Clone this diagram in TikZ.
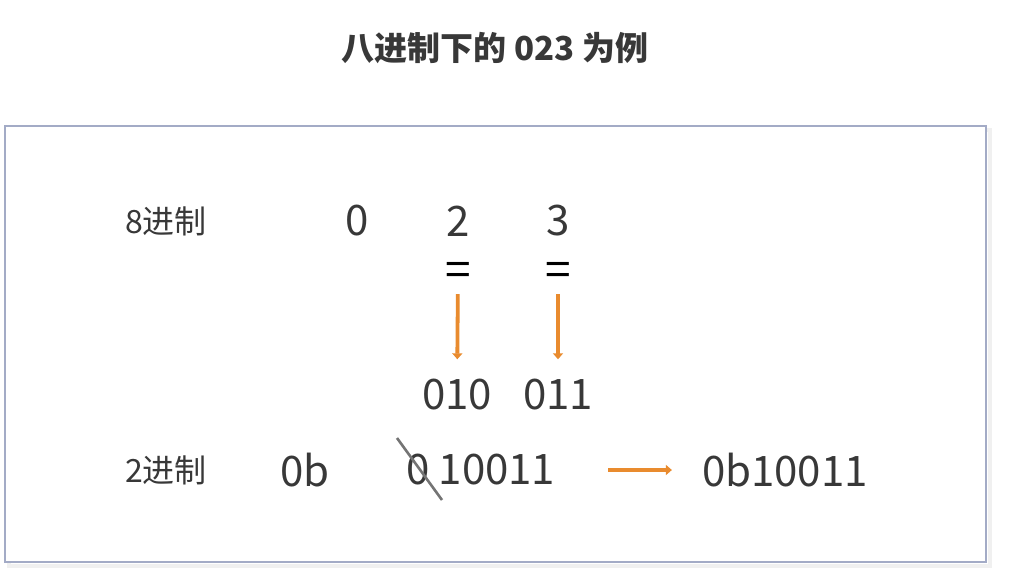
\documentclass[tikz,border=0pt]{standalone}
\usepackage{fontspec}
\setmainfont{Noto Sans CJK SC}
\usetikzlibrary{positioning,arrows.meta}
\definecolor{ink}{HTML}{383838}
\definecolor{arr}{HTML}{E98B2E}
\definecolor{frame}{HTML}{A3ABC6}

\begin{document}
\begin{tikzpicture}[x=1pt,y=-1pt,
        numtxt/.style={text=ink,inner sep=0pt,font=\fontsize{42}{42}\selectfont},
        basetxt/.style={text=ink,inner sep=0pt,font=\fontsize{32}{32}\selectfont},
        eqtxt/.style={text=black,inner sep=0pt,font=\fontsize{46}{46}\selectfont}]
        \useasboundingbox (0,0) rectangle (1013,587);
        % frame
        \draw[black!6,line width=4pt] (9,130) rectangle (990,566);
        \draw[frame,line width=1.6pt,fill=white] (5,126) rectangle (986,562);
        \node[text=ink,inner sep=0pt,font=\fontsize{33}{33}\selectfont\bfseries] at (495,48) (a1c04e2f) {八进制下的 023 为例};
        \node[basetxt] at (166,221) (5b7e90d3) {8进制};
        \node[basetxt] at (166,470) (c93f18a6) {2进制};
        \node[numtxt] at (357,221) (0e4d2b71) {0};
        \node[numtxt] at (458,221) (7f2a9c05) {2};
        \node[numtxt] at (558,221) (e61b4d38) {3};
        \node[eqtxt] at (458,274) (2d8e6f14) {=};
        \node[eqtxt] at (558,274) (94c7a2e0) {=};
        \node[numtxt] at (457,395) (b3f05c92) {010};
        \node[numtxt] at (558,395) (6a91e7d4) {011};
        \node[numtxt] at (305,470) (f4d2386b) {0b};
        \node[numtxt] at (418,470) (1c7e5a09) {0};
        \node[numtxt] at (497,470) (8b30f6e2) {10011};
        \node[numtxt] at (785,470) (d05a4c1f) {0b10011};
        \coordinate (3e9b71a4) at (397,438);
        \coordinate (7ac2e85d) at (442,500);
        \draw[ink!70,line width=2.6pt] (3e9b71a4) -- (7ac2e85d);
        \path[arr, line width=3.8pt, >={Triangle[width=10pt,length=6pt]}]
        (2d8e6f14) edge [->, shorten <=8pt, shorten >=20pt] (b3f05c92)
        (94c7a2e0) edge [->, shorten <=8pt, shorten >=20pt] (6a91e7d4)
        (8b30f6e2) edge [->, shorten <=53pt, shorten >=30pt] (d05a4c1f)
        ;
    \end{tikzpicture}
\end{document}
